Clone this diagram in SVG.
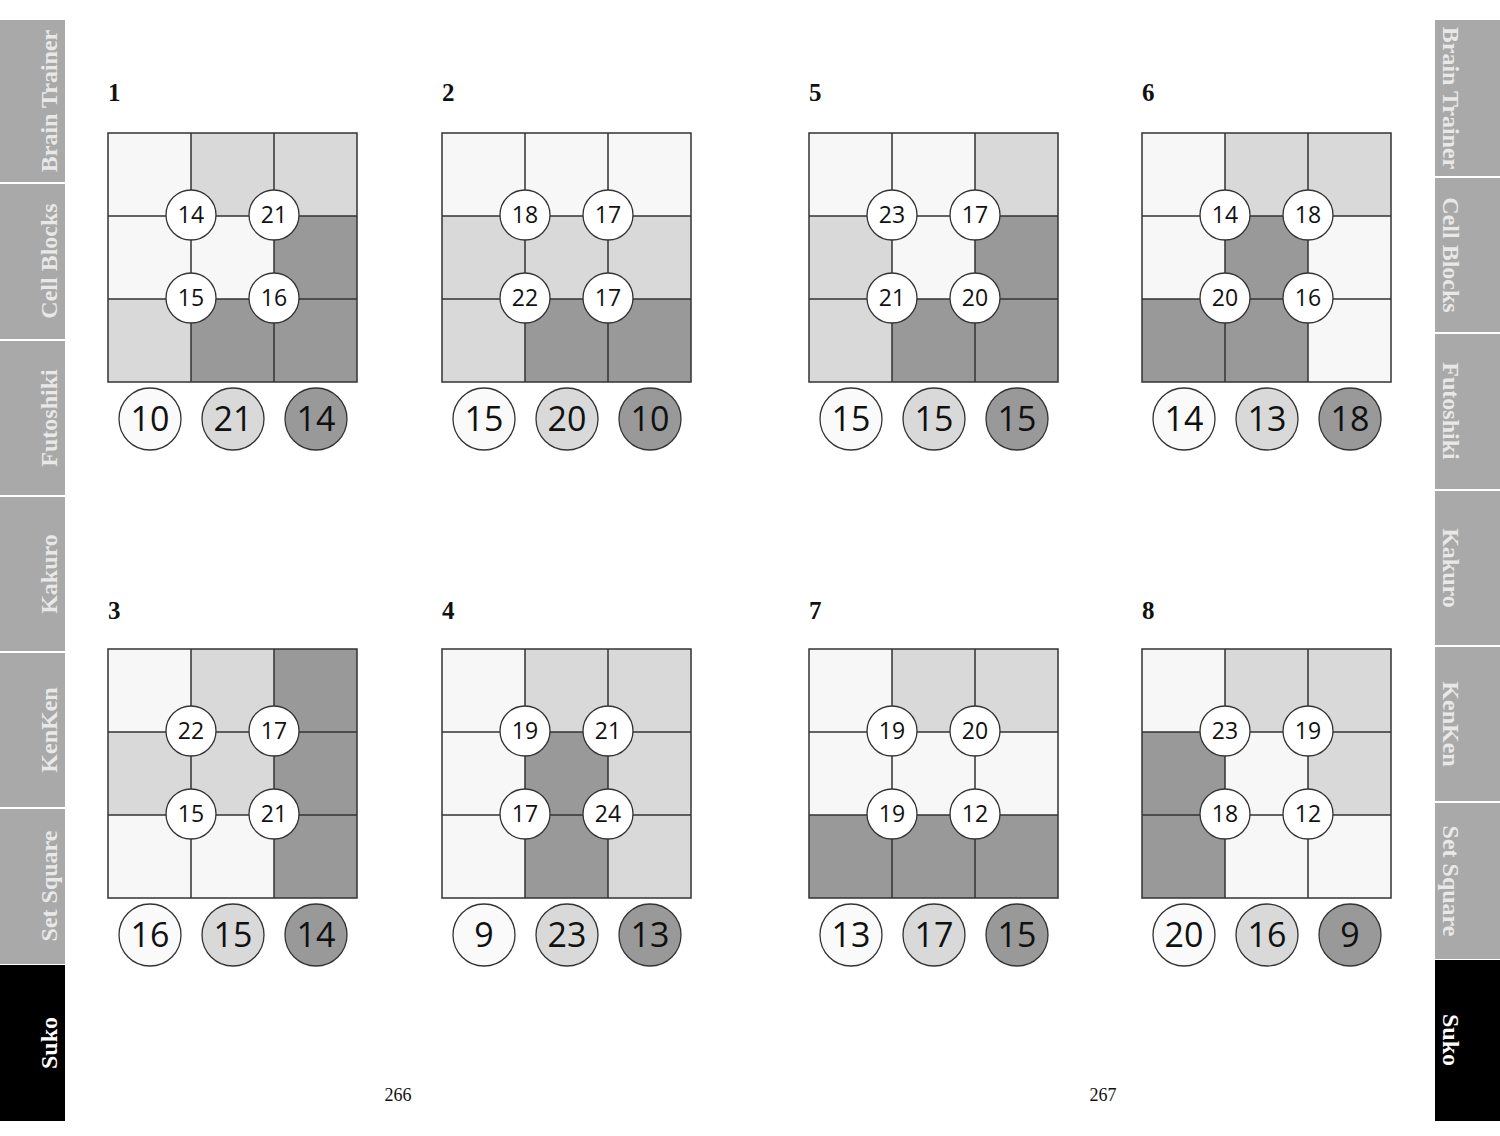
<svg xmlns="http://www.w3.org/2000/svg" width="1500" height="1136" viewBox="0 0 1500 1136">
<style>
.g{stroke:#333;stroke-width:1.5}
.c{fill:#fff;stroke:#333;stroke-width:1.3}
.W{fill:#f7f7f7}.L{fill:#d9d9d9}.D{fill:#999}
.c.W{fill:#fafafa}.c.L{fill:#d9d9d9}.c.D{fill:#999}
.t{font-family:"Open Sans","Noto Sans",sans-serif;text-anchor:middle;fill:#111}
.s{font-size:23px}.b{font-size:34px}
.n{font-family:"Liberation Serif",serif;font-weight:bold;font-size:25px;fill:#111}
.tab{fill:#a9a9a9}.tt{font-family:"Liberation Serif",serif;font-weight:bold;font-size:24px;fill:#e8e8e8;text-anchor:middle}
.pn{font-family:"Liberation Serif",serif;font-size:18px;fill:#111;text-anchor:middle}
</style>
<defs>
<g id="lines" class="g" fill="none"><rect x="0" y="0" width="249" height="249"/><path d="M83 0V249M166 0V249M0 83H249M0 166H249"/></g>
</defs>
<g id="tabs-left">
<rect class="tab" x="0" y="20" width="65" height="162"/><rect class="tab" x="0" y="184" width="65" height="155"/><rect class="tab" x="0" y="341" width="65" height="154"/><rect class="tab" x="0" y="497" width="65" height="154"/><rect class="tab" x="0" y="653" width="65" height="154"/><rect class="tab" x="0" y="809" width="65" height="155"/><rect x="0" y="965" width="65" height="156" fill="#000"/>
<text class="tt" transform="translate(57,101) rotate(-90)">Brain Trainer</text>
<text class="tt" transform="translate(57,261) rotate(-90)">Cell Blocks</text>
<text class="tt" transform="translate(57,418) rotate(-90)">Futoshiki</text>
<text class="tt" transform="translate(57,574) rotate(-90)">Kakuro</text>
<text class="tt" transform="translate(57,730) rotate(-90)">KenKen</text>
<text class="tt" transform="translate(57,886) rotate(-90)">Set Square</text>
<text class="tt" style="fill:#fff" transform="translate(57,1043) rotate(-90)">Suko</text>
</g>
<g id="tabs-right">
<rect class="tab" x="1435" y="20" width="65" height="156"/><rect class="tab" x="1435" y="178" width="65" height="154"/><rect class="tab" x="1435" y="334" width="65" height="155"/><rect class="tab" x="1435" y="491" width="65" height="154"/><rect class="tab" x="1435" y="647" width="65" height="154"/><rect class="tab" x="1435" y="803" width="65" height="156"/><rect x="1435" y="960" width="65" height="161" fill="#000"/>
<text class="tt" transform="translate(1443,98) rotate(90)">Brain Trainer</text>
<text class="tt" transform="translate(1443,255) rotate(90)">Cell Blocks</text>
<text class="tt" transform="translate(1443,411) rotate(90)">Futoshiki</text>
<text class="tt" transform="translate(1443,568) rotate(90)">Kakuro</text>
<text class="tt" transform="translate(1443,724) rotate(90)">KenKen</text>
<text class="tt" transform="translate(1443,881) rotate(90)">Set Square</text>
<text class="tt" style="fill:#fff" transform="translate(1443,1040) rotate(90)">Suko</text>
</g>

<g id="p1" transform="translate(108,133)">
<text class="n" x="0" y="-32">1</text>
<rect class="W" x="0" y="0" width="83" height="83"/><rect class="L" x="83" y="0" width="83" height="83"/><rect class="L" x="166" y="0" width="83" height="83"/>
<rect class="W" x="0" y="83" width="83" height="83"/><rect class="W" x="83" y="83" width="83" height="83"/><rect class="D" x="166" y="83" width="83" height="83"/>
<rect class="L" x="0" y="166" width="83" height="83"/><rect class="D" x="83" y="166" width="83" height="83"/><rect class="D" x="166" y="166" width="83" height="83"/>
<use href="#lines"/>
<circle class="c" cx="83" cy="82" r="25"/><circle class="c" cx="166" cy="82" r="25"/><circle class="c" cx="83" cy="165" r="25"/><circle class="c" cx="166" cy="165" r="25"/>
<text class="t s" x="83" y="90">14</text><text class="t s" x="166" y="90">21</text><text class="t s" x="83" y="173">15</text><text class="t s" x="166" y="173">16</text>
<circle class="c W" cx="42" cy="286" r="31"/><circle class="c L" cx="125" cy="286" r="31"/><circle class="c D" cx="208" cy="286" r="31"/>
<text class="t b" x="42" y="298">10</text><text class="t b" x="125" y="298">21</text><text class="t b" x="208" y="298">14</text>
</g>

<g id="p2" transform="translate(442,133)">
<text class="n" x="0" y="-32">2</text>
<rect class="W" x="0" y="0" width="83" height="83"/><rect class="W" x="83" y="0" width="83" height="83"/><rect class="W" x="166" y="0" width="83" height="83"/>
<rect class="L" x="0" y="83" width="83" height="83"/><rect class="L" x="83" y="83" width="83" height="83"/><rect class="L" x="166" y="83" width="83" height="83"/>
<rect class="L" x="0" y="166" width="83" height="83"/><rect class="D" x="83" y="166" width="83" height="83"/><rect class="D" x="166" y="166" width="83" height="83"/>
<use href="#lines"/>
<circle class="c" cx="83" cy="82" r="25"/><circle class="c" cx="166" cy="82" r="25"/><circle class="c" cx="83" cy="165" r="25"/><circle class="c" cx="166" cy="165" r="25"/>
<text class="t s" x="83" y="90">18</text><text class="t s" x="166" y="90">17</text><text class="t s" x="83" y="173">22</text><text class="t s" x="166" y="173">17</text>
<circle class="c W" cx="42" cy="286" r="31"/><circle class="c L" cx="125" cy="286" r="31"/><circle class="c D" cx="208" cy="286" r="31"/>
<text class="t b" x="42" y="298">15</text><text class="t b" x="125" y="298">20</text><text class="t b" x="208" y="298">10</text>
</g>

<g id="p5" transform="translate(809,133)">
<text class="n" x="0" y="-32">5</text>
<rect class="W" x="0" y="0" width="83" height="83"/><rect class="W" x="83" y="0" width="83" height="83"/><rect class="L" x="166" y="0" width="83" height="83"/>
<rect class="L" x="0" y="83" width="83" height="83"/><rect class="W" x="83" y="83" width="83" height="83"/><rect class="D" x="166" y="83" width="83" height="83"/>
<rect class="L" x="0" y="166" width="83" height="83"/><rect class="D" x="83" y="166" width="83" height="83"/><rect class="D" x="166" y="166" width="83" height="83"/>
<use href="#lines"/>
<circle class="c" cx="83" cy="82" r="25"/><circle class="c" cx="166" cy="82" r="25"/><circle class="c" cx="83" cy="165" r="25"/><circle class="c" cx="166" cy="165" r="25"/>
<text class="t s" x="83" y="90">23</text><text class="t s" x="166" y="90">17</text><text class="t s" x="83" y="173">21</text><text class="t s" x="166" y="173">20</text>
<circle class="c W" cx="42" cy="286" r="31"/><circle class="c L" cx="125" cy="286" r="31"/><circle class="c D" cx="208" cy="286" r="31"/>
<text class="t b" x="42" y="298">15</text><text class="t b" x="125" y="298">15</text><text class="t b" x="208" y="298">15</text>
</g>

<g id="p6" transform="translate(1142,133)">
<text class="n" x="0" y="-32">6</text>
<rect class="W" x="0" y="0" width="83" height="83"/><rect class="L" x="83" y="0" width="83" height="83"/><rect class="L" x="166" y="0" width="83" height="83"/>
<rect class="W" x="0" y="83" width="83" height="83"/><rect class="D" x="83" y="83" width="83" height="83"/><rect class="W" x="166" y="83" width="83" height="83"/>
<rect class="D" x="0" y="166" width="83" height="83"/><rect class="D" x="83" y="166" width="83" height="83"/><rect class="W" x="166" y="166" width="83" height="83"/>
<use href="#lines"/>
<circle class="c" cx="83" cy="82" r="25"/><circle class="c" cx="166" cy="82" r="25"/><circle class="c" cx="83" cy="165" r="25"/><circle class="c" cx="166" cy="165" r="25"/>
<text class="t s" x="83" y="90">14</text><text class="t s" x="166" y="90">18</text><text class="t s" x="83" y="173">20</text><text class="t s" x="166" y="173">16</text>
<circle class="c W" cx="42" cy="286" r="31"/><circle class="c L" cx="125" cy="286" r="31"/><circle class="c D" cx="208" cy="286" r="31"/>
<text class="t b" x="42" y="298">14</text><text class="t b" x="125" y="298">13</text><text class="t b" x="208" y="298">18</text>
</g>

<g id="p3" transform="translate(108,649)">
<text class="n" x="0" y="-30">3</text>
<rect class="W" x="0" y="0" width="83" height="83"/><rect class="L" x="83" y="0" width="83" height="83"/><rect class="D" x="166" y="0" width="83" height="83"/>
<rect class="L" x="0" y="83" width="83" height="83"/><rect class="L" x="83" y="83" width="83" height="83"/><rect class="D" x="166" y="83" width="83" height="83"/>
<rect class="W" x="0" y="166" width="83" height="83"/><rect class="W" x="83" y="166" width="83" height="83"/><rect class="D" x="166" y="166" width="83" height="83"/>
<use href="#lines"/>
<circle class="c" cx="83" cy="82" r="25"/><circle class="c" cx="166" cy="82" r="25"/><circle class="c" cx="83" cy="165" r="25"/><circle class="c" cx="166" cy="165" r="25"/>
<text class="t s" x="83" y="90">22</text><text class="t s" x="166" y="90">17</text><text class="t s" x="83" y="173">15</text><text class="t s" x="166" y="173">21</text>
<circle class="c W" cx="42" cy="286" r="31"/><circle class="c L" cx="125" cy="286" r="31"/><circle class="c D" cx="208" cy="286" r="31"/>
<text class="t b" x="42" y="298">16</text><text class="t b" x="125" y="298">15</text><text class="t b" x="208" y="298">14</text>
</g>

<g id="p4" transform="translate(442,649)">
<text class="n" x="0" y="-30">4</text>
<rect class="W" x="0" y="0" width="83" height="83"/><rect class="L" x="83" y="0" width="83" height="83"/><rect class="L" x="166" y="0" width="83" height="83"/>
<rect class="W" x="0" y="83" width="83" height="83"/><rect class="D" x="83" y="83" width="83" height="83"/><rect class="L" x="166" y="83" width="83" height="83"/>
<rect class="W" x="0" y="166" width="83" height="83"/><rect class="D" x="83" y="166" width="83" height="83"/><rect class="L" x="166" y="166" width="83" height="83"/>
<use href="#lines"/>
<circle class="c" cx="83" cy="82" r="25"/><circle class="c" cx="166" cy="82" r="25"/><circle class="c" cx="83" cy="165" r="25"/><circle class="c" cx="166" cy="165" r="25"/>
<text class="t s" x="83" y="90">19</text><text class="t s" x="166" y="90">21</text><text class="t s" x="83" y="173">17</text><text class="t s" x="166" y="173">24</text>
<circle class="c W" cx="42" cy="286" r="31"/><circle class="c L" cx="125" cy="286" r="31"/><circle class="c D" cx="208" cy="286" r="31"/>
<text class="t b" x="42" y="298">9</text><text class="t b" x="125" y="298">23</text><text class="t b" x="208" y="298">13</text>
</g>

<g id="p7" transform="translate(809,649)">
<text class="n" x="0" y="-30">7</text>
<rect class="W" x="0" y="0" width="83" height="83"/><rect class="L" x="83" y="0" width="83" height="83"/><rect class="L" x="166" y="0" width="83" height="83"/>
<rect class="W" x="0" y="83" width="83" height="83"/><rect class="W" x="83" y="83" width="83" height="83"/><rect class="W" x="166" y="83" width="83" height="83"/>
<rect class="D" x="0" y="166" width="83" height="83"/><rect class="D" x="83" y="166" width="83" height="83"/><rect class="D" x="166" y="166" width="83" height="83"/>
<use href="#lines"/>
<circle class="c" cx="83" cy="82" r="25"/><circle class="c" cx="166" cy="82" r="25"/><circle class="c" cx="83" cy="165" r="25"/><circle class="c" cx="166" cy="165" r="25"/>
<text class="t s" x="83" y="90">19</text><text class="t s" x="166" y="90">20</text><text class="t s" x="83" y="173">19</text><text class="t s" x="166" y="173">12</text>
<circle class="c W" cx="42" cy="286" r="31"/><circle class="c L" cx="125" cy="286" r="31"/><circle class="c D" cx="208" cy="286" r="31"/>
<text class="t b" x="42" y="298">13</text><text class="t b" x="125" y="298">17</text><text class="t b" x="208" y="298">15</text>
</g>

<g id="p8" transform="translate(1142,649)">
<text class="n" x="0" y="-30">8</text>
<rect class="W" x="0" y="0" width="83" height="83"/><rect class="L" x="83" y="0" width="83" height="83"/><rect class="L" x="166" y="0" width="83" height="83"/>
<rect class="D" x="0" y="83" width="83" height="83"/><rect class="W" x="83" y="83" width="83" height="83"/><rect class="L" x="166" y="83" width="83" height="83"/>
<rect class="D" x="0" y="166" width="83" height="83"/><rect class="W" x="83" y="166" width="83" height="83"/><rect class="W" x="166" y="166" width="83" height="83"/>
<use href="#lines"/>
<circle class="c" cx="83" cy="82" r="25"/><circle class="c" cx="166" cy="82" r="25"/><circle class="c" cx="83" cy="165" r="25"/><circle class="c" cx="166" cy="165" r="25"/>
<text class="t s" x="83" y="90">23</text><text class="t s" x="166" y="90">19</text><text class="t s" x="83" y="173">18</text><text class="t s" x="166" y="173">12</text>
<circle class="c W" cx="42" cy="286" r="31"/><circle class="c L" cx="125" cy="286" r="31"/><circle class="c D" cx="208" cy="286" r="31"/>
<text class="t b" x="42" y="298">20</text><text class="t b" x="125" y="298">16</text><text class="t b" x="208" y="298">9</text>
</g>

<text class="pn" x="398" y="1101">266</text>
<text class="pn" x="1103" y="1101">267</text>
</svg>
